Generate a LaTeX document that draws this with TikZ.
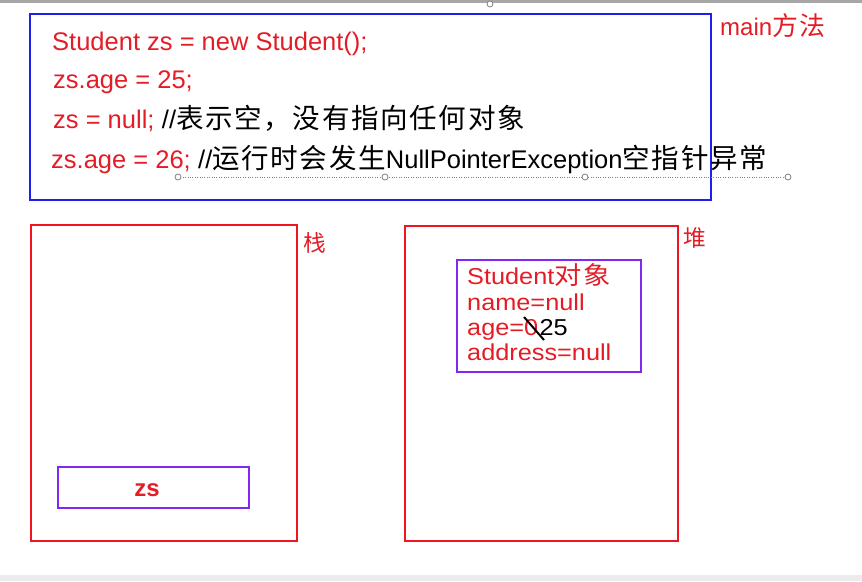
\documentclass[tikz,border=0pt]{standalone}
\usepackage{fontspec}
\usepackage{graphicx}
\setmainfont{Liberation Sans}
\newfontfamily\cjk[Scale=1.08, LetterSpace=6]{Noto Sans CJK SC}
\newcommand{\widetext}[1]{\scalebox{1.1}[1]{#1}}
\definecolor{codered}{RGB}{228,28,38}
\definecolor{boxred}{RGB}{240,20,30}
\definecolor{boxblue}{RGB}{30,30,240}
\definecolor{boxpurple}{RGB}{130,40,240}

\begin{document}
\begin{tikzpicture}[x=1pt, y=-1pt,
		code/.style={anchor=base west, inner sep=0pt, font=\fontsize{25.5}{30}\selectfont},
		obj/.style={anchor=base west, inner sep=0pt, font=\fontsize{23}{26}\selectfont, text=codered},
		handle/.style={draw=gray, fill=white, line width=0.8pt}]
		\useasboundingbox (0,0) rectangle (862,581);
		% Screen edges
		\fill[gray!70] (0,0) rectangle (862,2.5);
		\fill[gray!15] (0,575) rectangle (862,581);
		
		% --- main method ---
		\draw[boxblue, line width=2.2pt] (30,14) rectangle (711,200);
		\node[anchor=base west, inner sep=0pt, text=codered, font=\fontsize{24}{28}\selectfont] (mainlbl) at (720,35) {main{\cjk 方法}};
		\node[code, text=codered] (line1) at (52,50) {Student zs = new Student();};
		\node[code, text=codered] (line2) at (53,88) {zs.age = 25;};
		\node[code, text=codered] (line3) at (53,128) {zs = null;};
		\node[code] (cmt3) at ([xshift=7]line3.base east) {//{\cjk 表示空，没有指向任何对象}};
		\node[code, text=codered] (line4) at (51,168) {zs.age = 26;};
		\node[code] (cmt4) at ([xshift=7]line4.base east) {//{\cjk 运行时会发生}NullPointerException{\cjk 空指针异常}};
		% Selection handles
		\draw[gray, dotted] (178,177) -- (788,177);
		\foreach \hx in {178,385,585,788}
			\draw[handle] (\hx,177) circle (3);
		\draw[handle] (490,4) circle (3);
		
		% --- Stack ---
		\draw[boxred, line width=2.2pt] (31,225) rectangle (297,541);
		\node[anchor=base west, inner sep=0pt, text=codered, font=\fontsize{21}{26}\selectfont] (stacklbl) at (303,251) {\cjk 栈};
		\draw[boxpurple, line width=2.2pt] (58,467) rectangle (249,508);
		\node[inner sep=0pt, text=codered, font=\bfseries\fontsize{24}{28}\selectfont] (zs) at (147,490) {zs};
		
		% --- Heap ---
		\draw[boxred, line width=2.2pt] (405,226) rectangle (678,541);
		\node[anchor=base west, inner sep=0pt, text=codered, font=\fontsize{21}{26}\selectfont] (heaplbl) at (683,246) {\cjk 堆};
		\draw[boxpurple, line width=2.2pt] (457,260) rectangle (641,372);
		\node[obj] (objtitle) at (467,284) {\widetext{Student{\cjk 对象}}};
		\node[obj] (objname) at (467,310) {\widetext{name=null}};
		\node[obj] (objage) at (467,335) {\widetext{age=0}};
		\node[obj] (objaddr) at (467,360) {\widetext{address=null}};
		% Changed value
		\node[obj, text=black] (agenew) at ([xshift=1]objage.base east) {\widetext{25}};
		\draw[black, line width=2pt] (524,317) -- (544,340);
		
	\end{tikzpicture}
\end{document}
